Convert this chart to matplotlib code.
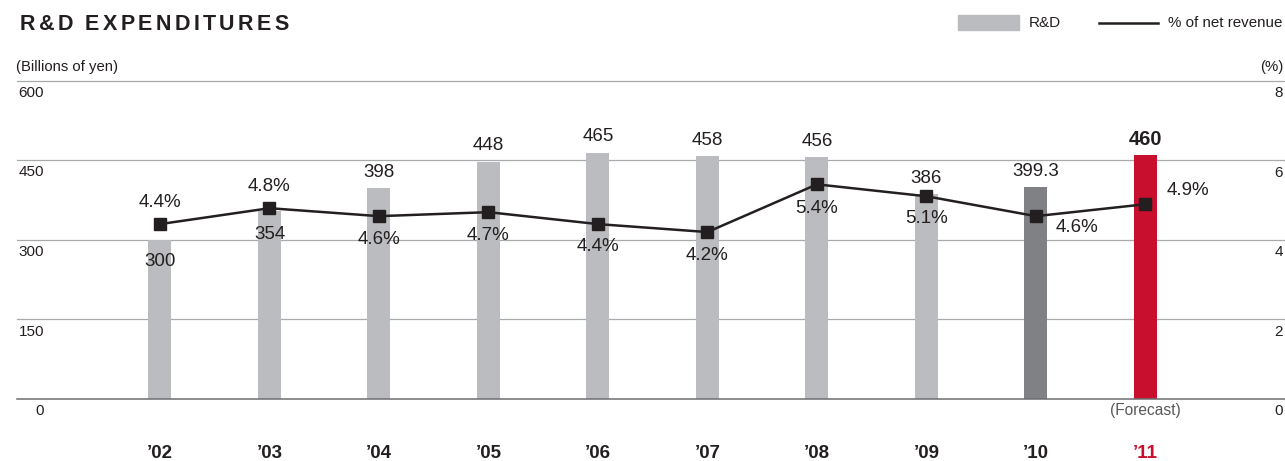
"""R&D expenditures chart: bars (billions of yen) with % of net revenue line."""

import matplotlib

matplotlib.use("Agg")
import matplotlib.pyplot as plt
from matplotlib.lines import Line2D
from matplotlib.patches import Rectangle

plt.rcParams["font.family"] = ["Liberation Sans", "DejaVu Sans"]

years = ["\u201902", "\u201903", "\u201904", "\u201905", "\u201906",
         "\u201907", "\u201908", "\u201909", "\u201910", "\u201911"]
rd = [300, 354, 398, 448, 465, 458, 456, 386, 399.3, 460]
rd_labels = ["300", "354", "398", "448", "465", "458", "456", "386", "399.3", "460"]
pct = [4.4, 4.8, 4.6, 4.7, 4.4, 4.2, 5.4, 5.1, 4.6, 4.9]
pct_labels = ["4.4%", "4.8%", "4.6%", "4.7%", "4.4%", "4.2%", "5.4%", "5.1%", "4.6%", "4.9%"]
left_ticks = [0, 150, 300, 450, 600]
right_ticks = [0, 2, 4, 6, 8]

LIGHT = "#BBBCBF"
DARK = "#808184"
RED = "#C8102E"
INK = "#231F20"
GRID = "#A7A9AC"

# label placement (pixel offsets)
rd_off = [(0, -22), (0, -23)] + [(0, 16)] * 8
pct_off = [(0, 22), (0, 22), (0, -23), (0, -23), (0, -22), (0, -23),
           (0, -24), (0, -22), (41, -11), (43, 14)]

W, H = 1285, 461
fig = plt.figure(figsize=(W / 100, H / 100), dpi=100)
ax = fig.add_axes([17 / W, 1 - 399 / H, 1268 / W, 318 / H])
ax2 = ax.twinx()

xs = list(range(len(years)))
colors = [LIGHT] * (len(years) - 2) + [DARK, RED]
ax.bar(xs, rd, width=0.21, color=colors, zorder=2)
ax.set_xlim(-1.306, 10.275)
ax.set_ylim(0, 600)
ax2.set_ylim(0, 8)

for v in left_ticks:
    if v == 0:
        ax.axhline(v, color="#6D6E71", lw=1.1, zorder=3, clip_on=False)
    else:
        ax.axhline(v, color=GRID, lw=0.9, zorder=1, clip_on=False)
    ax.annotate(str(v), xy=(27 / 1268, v), xycoords=("axes fraction", "data"),
                xytext=(0, -12), textcoords="offset pixels",
                ha="right", va="center", fontsize=11, color=INK)
for v in right_ticks:
    ax2.annotate(str(v), xy=(1, v), xycoords=("axes fraction", "data"),
                 xytext=(-2, -12), textcoords="offset pixels",
                 ha="right", va="center", fontsize=11, color=INK)

for a in (ax, ax2):
    a.set_yticks([])
    a.set_xticks([])
    for s in a.spines.values():
        s.set_visible(False)

ax2.plot(xs, pct, color=INK, lw=1.8, marker="s", markersize=9, zorder=3)

for i, (x, v) in enumerate(zip(xs, rd)):
    dx, dy = rd_off[i]
    bold = i == len(xs) - 1
    ax.annotate(rd_labels[i], xy=(x, v), xytext=(dx, dy), textcoords="offset pixels",
                ha="center", va="center", fontsize=14.5 if bold else 13.5,
                fontweight="bold" if bold else "normal", color=INK)

for i, (x, v) in enumerate(zip(xs, pct)):
    dx, dy = pct_off[i]
    ax2.annotate(pct_labels[i], xy=(x, v), xytext=(dx, dy), textcoords="offset pixels",
                 ha="center", va="center", fontsize=13.5, color=INK, zorder=4)

for i, (x, lab) in enumerate(zip(xs, years)):
    ax.annotate(lab, xy=(x, 0), xytext=(0, -54), textcoords="offset pixels",
                ha="center", va="center", fontsize=13.5, fontweight="bold",
                color=RED if i == len(xs) - 1 else INK)
ax.annotate("(Forecast)", xy=(xs[-1], 0), xytext=(0, -11), textcoords="offset pixels",
            ha="center", va="center", fontsize=11.2, color="#58595B")

fig.text(16 / W, 1 - 67 / H, "(Billions of yen)", ha="left", va="center",
         fontsize=10.7, color=INK)
fig.text(1283 / W, 1 - 67 / H, "(%)", ha="right", va="center", fontsize=10.7, color=INK)

# legend
fig.add_artist(Rectangle((958 / W, 1 - 30 / H), 61 / W, 15 / H,
                         transform=fig.transFigure, color=LIGHT))
fig.text(1029 / W, 1 - 23 / H, "R&D", ha="left", va="center", fontsize=11, color=INK)
fig.add_artist(Line2D([1099 / W, 1158 / W], [1 - 23 / H, 1 - 23 / H],
                      transform=fig.transFigure, color=INK, lw=1.8))
fig.text(1168 / W, 1 - 23 / H, "% of net revenue", ha="left", va="center",
         fontsize=10.9, color=INK)

# letter-spaced title
renderer = fig.canvas.get_renderer()
x_px = 20
for ch in "R&D EXPENDITURES":
    if ch == " ":
        x_px += 8
        continue
    t = fig.text(x_px / W, 1 - 24 / H, ch, ha="left", va="center",
                 fontsize=15.5, fontweight="bold", color=INK)
    x_px += t.get_window_extent(renderer).width + 3.4

fig.savefig("out.png", dpi=100)
